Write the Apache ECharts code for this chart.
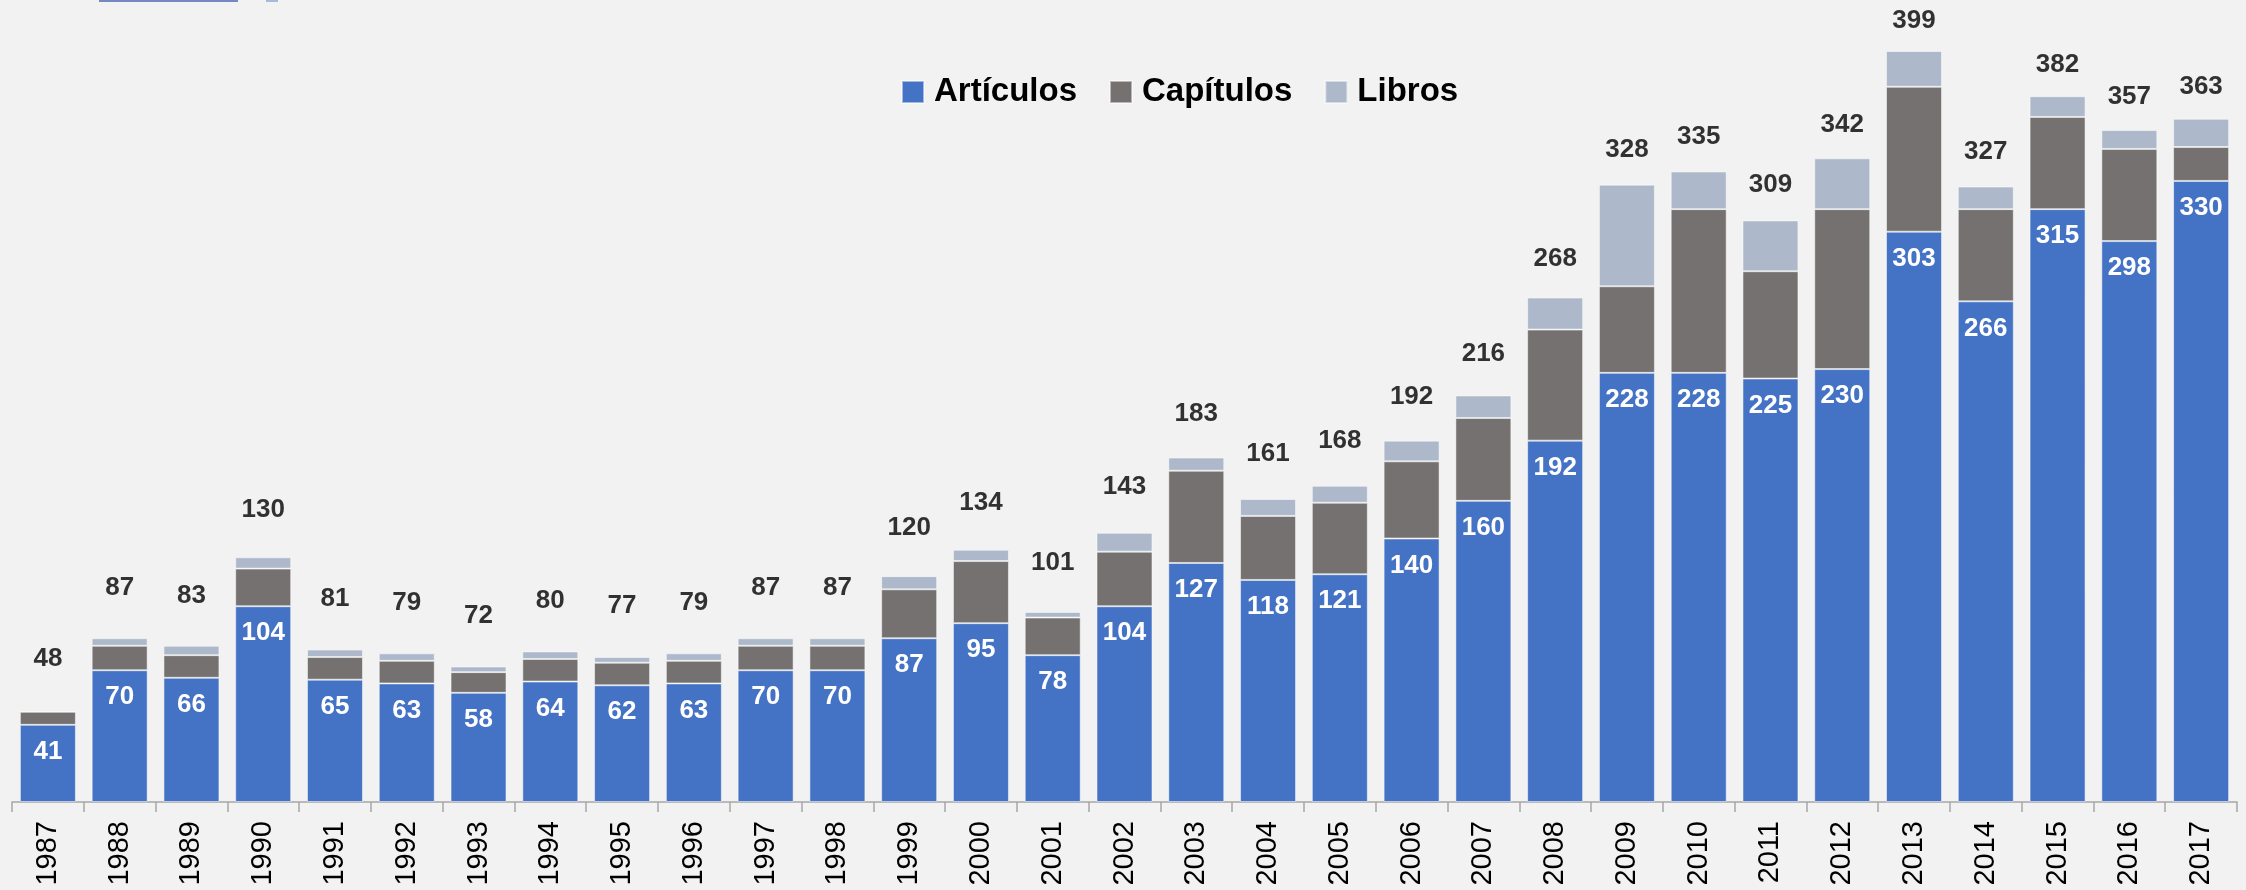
<!DOCTYPE html>
<html>
<head>
<meta charset="utf-8">
<script src="https://cdn.jsdelivr.net/npm/echarts@6/dist/echarts.min.js"></script>
<style>
html,body{margin:0;padding:0;background:#F2F2F2;}
#chart{width:2246px;height:890px;}
</style>
</head>
<body>
<div id="chart"></div>
<script>
const years = ['1987','1988','1989','1990','1991','1992','1993','1994','1995','1996','1997','1998','1999','2000','2001','2002','2003','2004','2005','2006','2007','2008','2009','2010','2011','2012','2013','2014','2015','2016','2017'];
const articulos = [41,70,66,104,65,63,58,64,62,63,70,70,87,95,78,104,127,118,121,140,160,192,228,228,225,230,303,266,315,298,330];
const capitulos = [7,13,12,20,12,12,11,12,12,12,13,13,26,33,20,29,49,34,38,41,44,59,46,87,57,85,77,49,49,49,18];
const libros = [0,4,5,6,4,4,3,4,3,4,4,4,7,6,3,10,7,9,9,11,12,17,54,20,27,27,19,12,11,10,15];
const totalLabels = [48,87,83,130,81,79,72,80,77,79,87,87,120,134,101,143,183,161,168,192,216,268,328,335,309,342,399,327,382,357,363];

const stackTop = years.map((y, i) => articulos[i] + capitulos[i] + libros[i]);

const FONT = "'Liberation Sans', Arial, sans-serif";

const chart = echarts.init(document.getElementById('chart'), null, {renderer: 'canvas'});
const segBorder = {borderColor: 'rgba(255,255,255,0.5)', borderWidth: 1};
chart.setOption({
  backgroundColor: '#F2F2F2',
  animation: false,
  graphic: [
    {type: 'rect', shape: {x: 99, y: 0, width: 139, height: 2}, style: {fill: '#7489C4'}},
    {type: 'rect', shape: {x: 266, y: 0, width: 12, height: 2}, style: {fill: '#A9B9DC'}}
  ],
  legend: {
    left: 901, top: 72, padding: 0,
    icon: 'rect', itemWidth: 22, itemHeight: 22, itemGap: 32,
    data: ['Artículos', 'Capítulos', 'Libros'],
    textStyle: {fontFamily: FONT, fontSize: 33, fontWeight: 'bold', color: '#000', lineHeight: 40, padding: [0, 0, 0, 5]}
  },
  grid: {left: 12, right: 9, top: 11.5, bottom: 88, containLabel: false},
  xAxis: {
    type: 'category', data: years,
    axisLine: {lineStyle: {color: '#A6A6A6', width: 1.5}},
    axisTick: {show: true, length: 10, lineStyle: {color: '#A6A6A6', width: 1.5}},
    axisLabel: {rotate: 90, fontSize: 29, color: '#000', fontFamily: FONT, margin: 19}
  },
  yAxis: [
    {type: 'value', min: 0, max: 420, show: false, splitLine: {show: false}},
    {type: 'value', min: -30.64, max: 404.2, show: false, splitLine: {show: false}}
  ],
  series: [
    {
      name: 'Artículos', type: 'bar', stack: 'pub', data: articulos, barCategoryGap: '22%',
      itemStyle: Object.assign({color: '#4472C4'}, segBorder),
      label: {show: true, position: 'insideTop', distance: 14, color: '#fff', fontSize: 26, fontWeight: 'bold', fontFamily: FONT}
    },
    {
      name: 'Capítulos', type: 'bar', stack: 'pub', data: capitulos,
      itemStyle: Object.assign({color: '#767171'}, segBorder)
    },
    {
      name: 'Libros', type: 'bar', stack: 'pub', data: libros,
      itemStyle: Object.assign({color: '#ADB9CA'}, segBorder)
    },
    {
      name: 'Total', type: 'scatter', yAxisIndex: 1, data: stackTop, symbolSize: 0, silent: true,
      label: {
        show: true, position: 'inside', color: '#000', fontSize: 26, fontWeight: 'bold', fontFamily: FONT,
        formatter: p => String(totalLabels[p.dataIndex])
      }
    }
  ]
});
</script>
</body>
</html>
